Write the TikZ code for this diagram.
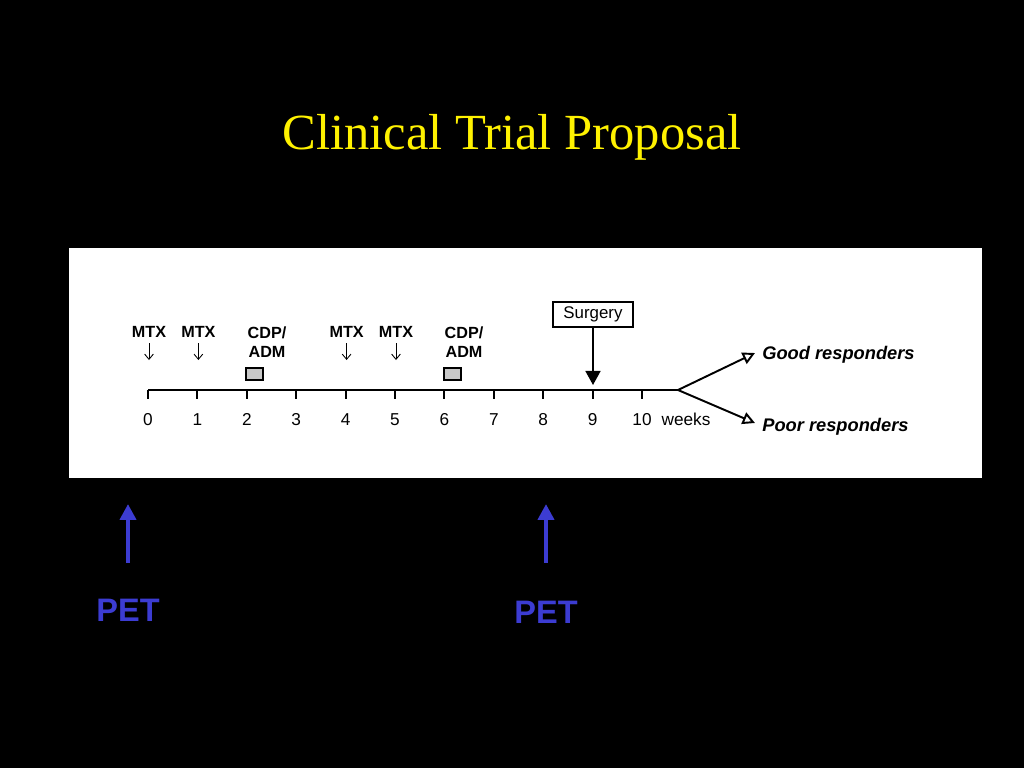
\documentclass[tikz,border=0pt]{standalone}
\usepackage{fontspec}
\setmainfont{Liberation Serif}
\setsansfont{Liberation Sans}
\usetikzlibrary{arrows.meta}
\definecolor{petblue}{RGB}{60,60,210}
\definecolor{boxgray}{RGB}{200,200,200}

\begin{document}
\begin{tikzpicture}[x=0.02cm, y=-0.02cm,
    drug/.style={font=\sffamily\bfseries\fontsize{9.2}{10.8}\selectfont, inner sep=0pt, align=center},
    num/.style={font=\sffamily\fontsize{9.8}{11}\selectfont, inner sep=0pt, anchor=base},
    resp/.style={font=\sffamily\bfseries\itshape\fontsize{10.4}{12}\selectfont, inner sep=0pt, anchor=west},
    pet/.style={petblue, font=\sffamily\bfseries\fontsize{18.5}{20}\selectfont, inner sep=0pt},
    petarrow/.style={petblue, line width=2.8pt, -{Triangle[length=9pt, width=9pt]}},
    dose/.style={draw, line width=0.8pt, fill=boxgray}]
    \fill[black] (0,0) rectangle (1024,768);
    \fill[white] (69,248) rectangle (982,478);
    \node[yellow, font=\fontsize{28.8}{34}\selectfont] (title) at (512,137) {Clinical Trial Proposal};
    % time axis
    \coordinate (start) at (148,390);
    \coordinate (fork) at (678,390);
    \draw[line width=1.1pt] (start) -- (fork);
    \foreach \w in {0,...,10} {
      \coordinate (tick\w) at ({148+49.4*\w},390);
      \draw[line width=1.1pt] (tick\w) -- ++(0,9);
      \node[num] (week\w) at ({148+49.4*\w},425) {\w};
    }
    \node[num] (weeks) at (686,425) {weeks};
    % drugs
    \foreach \w in {0,1,4,5} {
      \node[drug] (mtx\w) at ({149+49.4*\w},332) {MTX};
      \coordinate (dose\w) at ({149+49.4*\w},360);
      \draw[-{Straight Barb[length=3pt, width=5pt]}, line width=0.5pt] ([yshift=-3pt]mtx\w.south) -- (dose\w);
    }
    \node[drug] (cdp2) at (267,342) {CDP/\\ADM};
    \node[drug] (cdp6) at (464,342) {CDP/\\ADM};
    \draw[dose] (246,368) rectangle (263,380);
    \draw[dose] (444,368) rectangle (461,380);
    % surgery
    \node[draw, line width=0.9pt, font=\sffamily\fontsize{9.6}{11}\selectfont, minimum width=80*0.02cm, minimum height=25*0.02cm, inner sep=0pt] (surgery) at (593,314.5) {Surgery};
    \coordinate (op) at (593,385);
    \draw[line width=1.1pt, -{Triangle[length=8pt, width=8.5pt]}] (surgery.south) -- (op);
    % outcome
    \node[resp] (good) at (762,355) {Good responders};
    \node[resp] (poor) at (762,427) {Poor responders};
    \coordinate (goodtip) at (755,353);
    \coordinate (poortip) at (755,423);
    \draw[line width=1.1pt, -{Triangle[open, length=7pt, width=7pt]}] (fork) -- (goodtip);
    \draw[line width=1.1pt, -{Triangle[open, length=7pt, width=7pt]}] (fork) -- (poortip);
    % PET scans
    \node[pet] (pet1) at (128,610) {PET};
    \node[pet] (pet2) at (546,612) {PET};
    \coordinate (base1) at (128,563);
    \coordinate (base2) at (546,563);
    \coordinate (scan1) at (128,504);
    \coordinate (scan2) at (546,504);
    \draw[petarrow] (base1) -- (scan1);
    \draw[petarrow] (base2) -- (scan2);
\end{tikzpicture}
\end{document}
